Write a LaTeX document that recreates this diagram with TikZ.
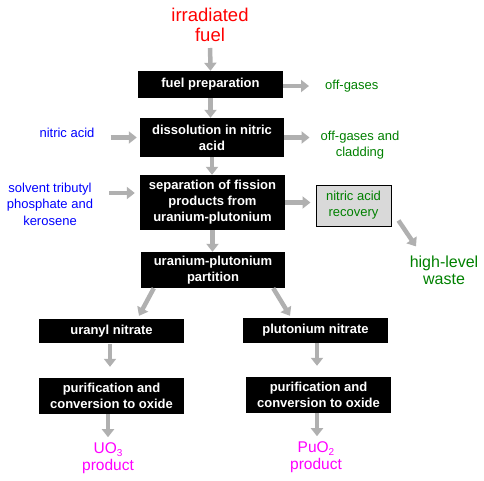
\documentclass[tikz,border=0pt]{standalone}
\usepackage{fontspec}
\setmainfont{Liberation Sans}
\usetikzlibrary{arrows.meta,calc}
\definecolor{arrgray}{RGB}{176,176,176}
\definecolor{dgreen}{RGB}{0,128,0}
\definecolor{boxgray}{RGB}{217,217,217}
\definecolor{pmag}{RGB}{255,0,255}
\definecolor{pblue}{RGB}{0,0,255}
\definecolor{pred}{RGB}{255,0,0}
\newcommand{\subsc}[1]{\raisebox{-3pt}{\fontsize{10}{10}\selectfont #1}}
\begin{document}
\begin{tikzpicture}[x=1pt,y=-1pt,
  stepbox/.style={fill=black,text=white,font=\fontsize{13}{16}\selectfont\bfseries,align=center,inner sep=0pt},
  lbl/.style={font=\fontsize{13}{16.5}\selectfont,align=center,inner sep=1pt},
  arr/.style={draw=arrgray,line width=4.5pt,-{Triangle[length=8pt,width=12pt]}}]
\useasboundingbox (0,0) rectangle (484,480);
% boxes
\node[stepbox,minimum width=145pt,minimum height=27pt] (fp) at (210.5,84.5) {fuel preparation};
\node[stepbox,minimum width=144pt,minimum height=39pt] (dis) at (212,137.5) {dissolution in nitric\\acid};
\node[stepbox,minimum width=145pt,minimum height=55pt] (sep) at (212.5,202.5) {separation of fission\\products from\\uranium-plutonium};
\node[draw=black,fill=boxgray,text=dgreen,font=\fontsize{13}{16}\selectfont,align=center,inner sep=0pt,minimum width=75pt,minimum height=41pt,line width=1pt] (nar) at (353.5,205.5) {nitric acid\\recovery};
\node[stepbox,minimum width=144pt,minimum height=36pt] (part) at (213,270) {uranium-plutonium\\partition};
\node[stepbox,minimum width=145pt,minimum height=24pt] (un) at (111.5,331) {uranyl nitrate};
\node[stepbox,minimum width=145pt,minimum height=25pt] (pn) at (315.5,330.5) {plutonium nitrate};
\node[stepbox,minimum width=145pt,minimum height=36pt] (pl) at (111.5,396) {purification and\\conversion to oxide};
\node[stepbox,minimum width=145pt,minimum height=36pt] (pr) at (318.5,395) {purification and\\conversion to oxide};
% labels
\node[lbl,text=pred,font=\fontsize{18.5}{20}\selectfont] (fuel) at (210,25) {irradiated\\fuel};
\node[lbl,text=dgreen,anchor=west] (og1) at (324,86) {off-gases};
\node[lbl,text=pblue] (na) at (67,133) {nitric acid};
\node[lbl,text=dgreen] (og2) at (360,145) {off-gases and\\cladding};
\node[lbl,text=pblue] (solv) at (50,204) {solvent tributyl\\phosphate and\\kerosene};
\node[lbl,text=dgreen,font=\fontsize{16}{17}\selectfont] (hlw) at (444,270) {high-level\\waste};
\node[lbl,text=pmag,font=\fontsize{15.5}{17}\selectfont] (uo3) at (108,458) {UO\subsc{3}\\product};
\node[lbl,text=pmag,font=\fontsize{15.5}{17}\selectfont] (puo2) at (316,457) {PuO\subsc{2}\\product};
% arrows
\draw[arr,shorten <=5pt] (fuel.south) -- (fp.north);
\draw[arr] (fp.south) -- (fp.south |- dis.north);
\draw[arr] (dis.south) -- (dis.south |- sep.north);
\draw[arr] (sep.south) -- (sep.south |- part.north);
\draw[arr,shorten >=15pt] ($(fp.east)+(0,1.5)$) -- (og1.west);
\draw[arr,shorten <=15pt,shorten >=3pt] (na.east |- dis.west) -- (dis.west);
\draw[arr,shorten >=10pt] (dis.east) -- (dis.east -| og2.west);
\draw[arr,shorten <=15pt,shorten >=5pt] ($(solv.east |- sep.west)+(0,-9.5)$) -- ($(sep.west)+(0,-9.5)$);
\draw[arr,shorten >=5pt] (sep.east) -- (sep.east -| nar.west);
\draw[arr] ($(nar.east)+(7,15)$) -- ($(hlw.north)+(-28,-8)$);
\draw[arr] ($(part.south west)+(13,0)$) -- ($(un.north)+(27.5,-3)$);
\draw[arr] ($(part.south east)+(-12,0)$) -- ($(pn.north)+(-25.5,-2)$);
\draw[arr] ($(un.south)+(-1.5,1)$) -- ($(pl.north)+(-1.5,-11)$);
\draw[arr] ($(pr.north |- pn.south)+(-1.5,0)$) -- ($(pr.north)+(-1.5,-11)$);
\draw[arr] ($(pl.south)+(-3.5,0)$) -- ($(pl.south -| uo3.north)+(0,23)$);
\draw[arr] ($(pr.south)+(-1.5,0)$) -- ($(pr.south)+(-1.5,23)$);
\end{tikzpicture}
\end{document}
